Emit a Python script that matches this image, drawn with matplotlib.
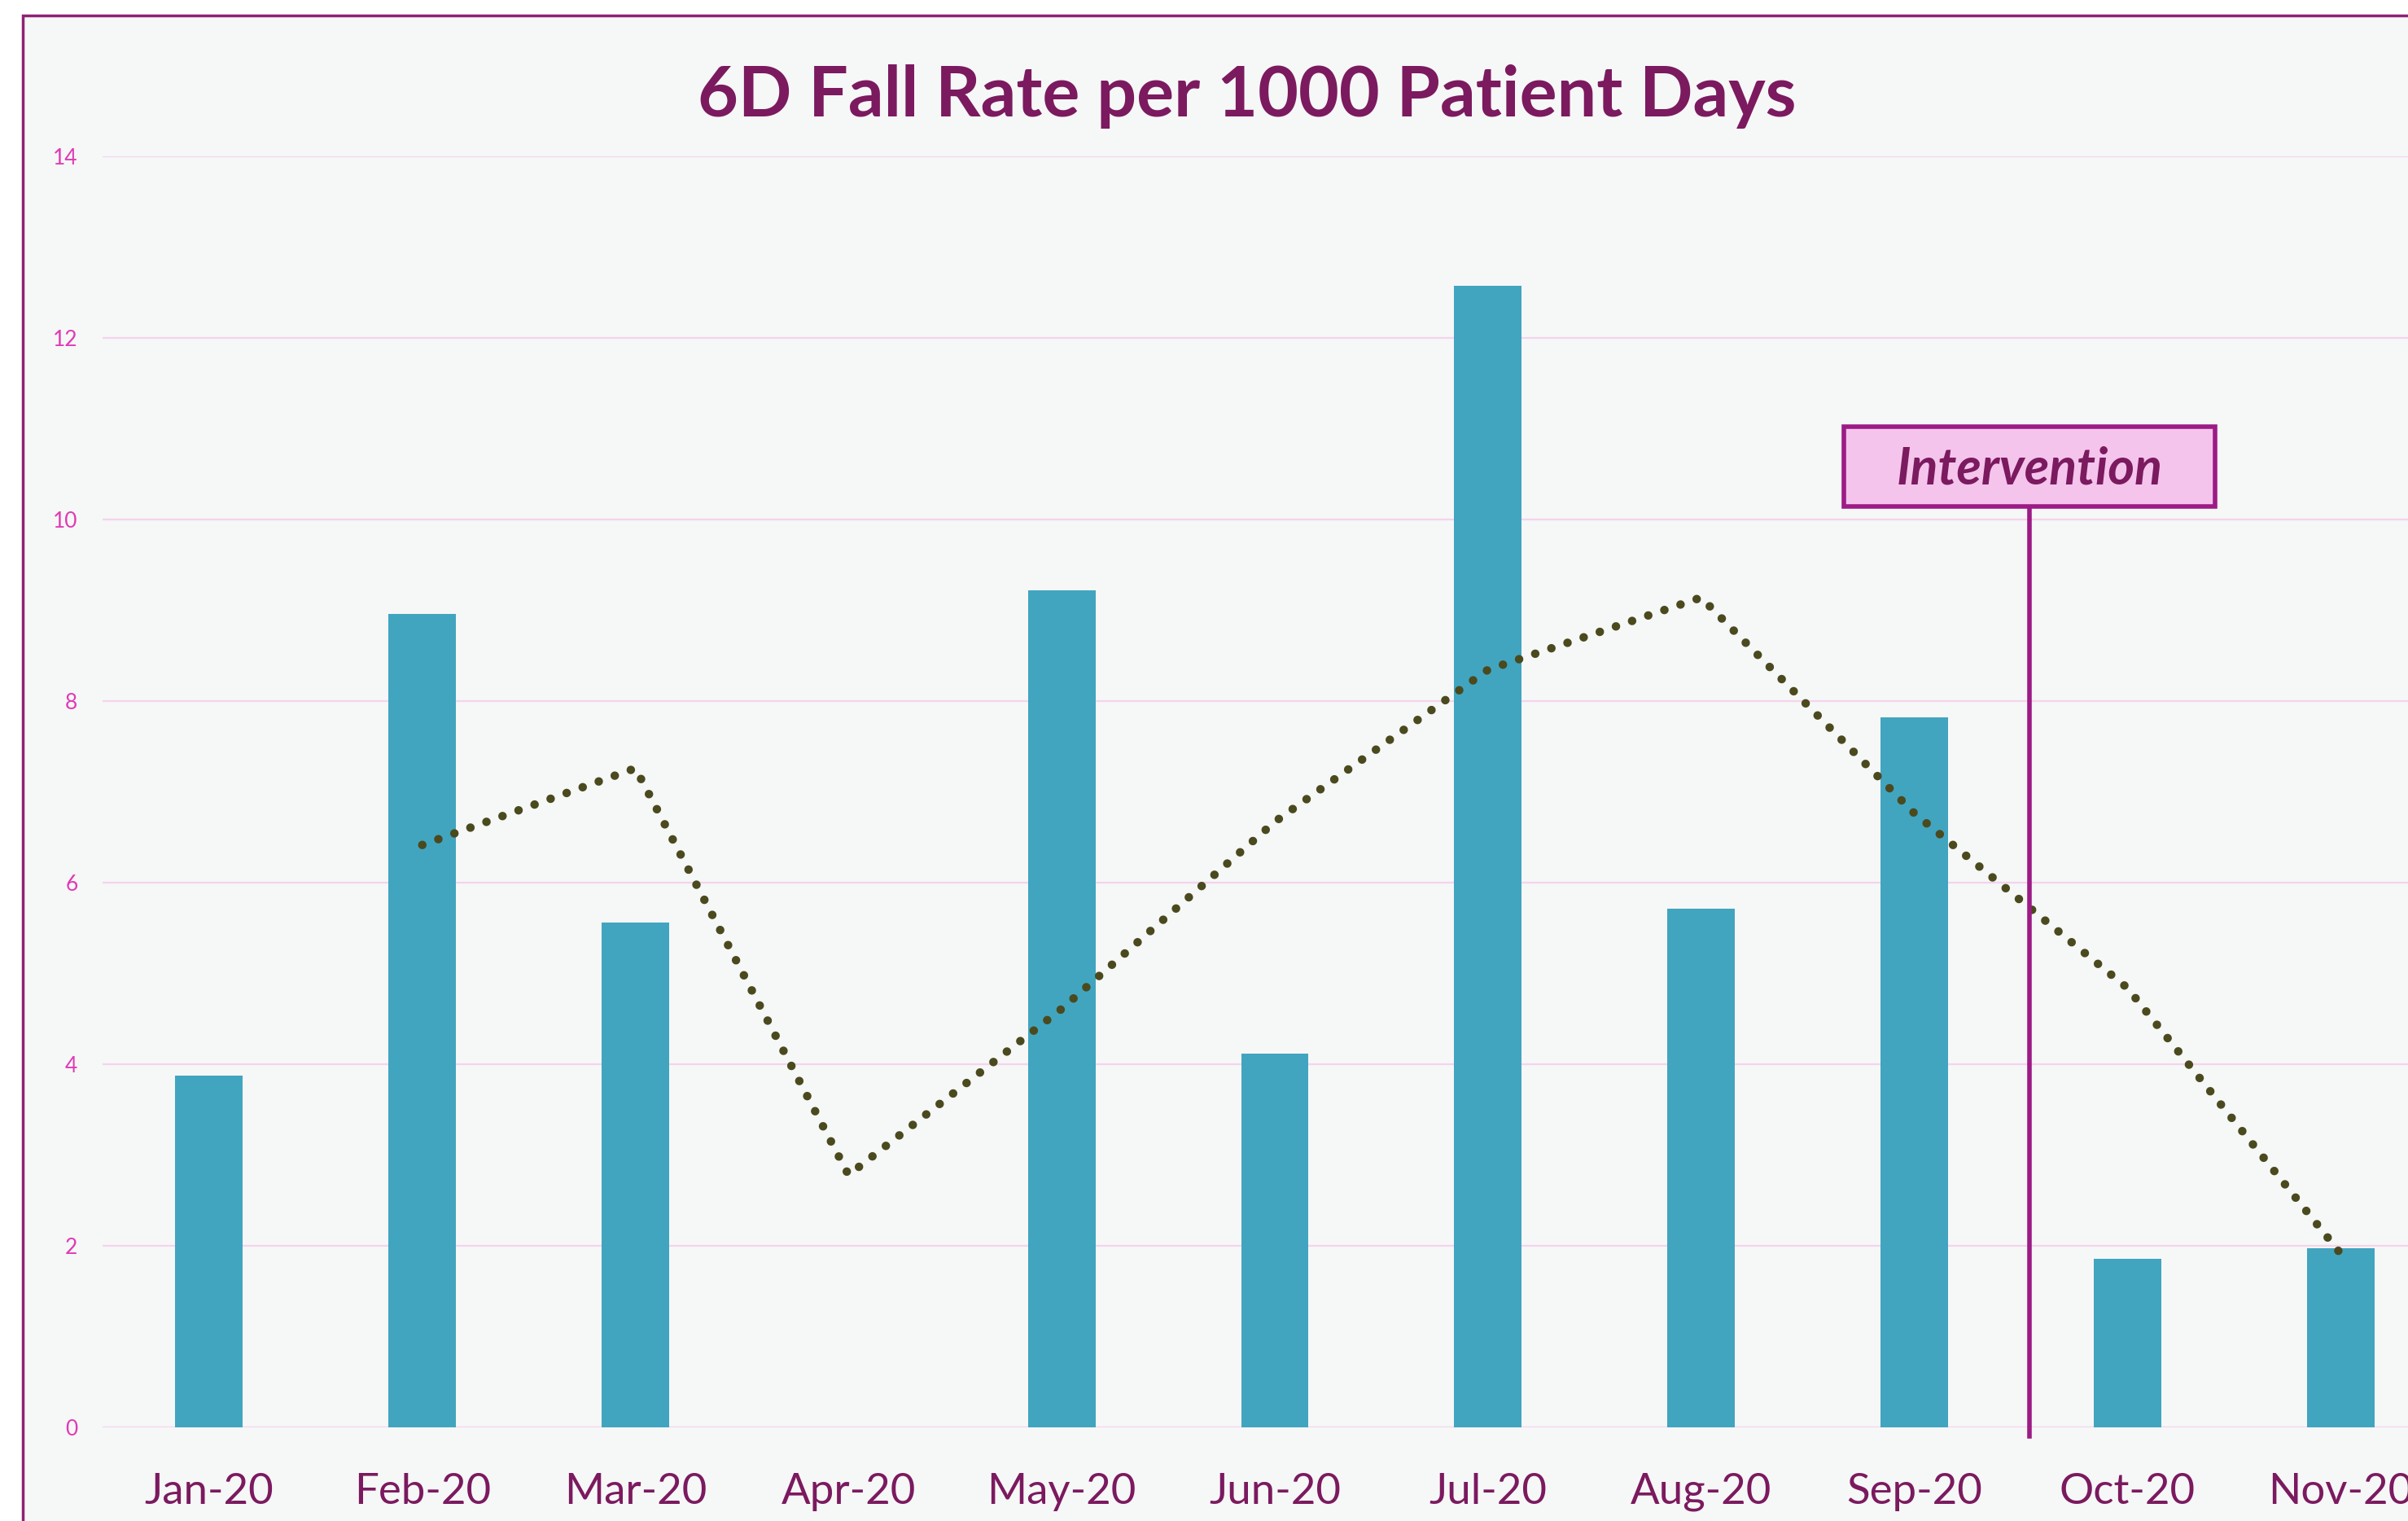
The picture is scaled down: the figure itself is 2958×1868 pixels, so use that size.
import matplotlib
matplotlib.use("Agg")
import matplotlib.pyplot as plt
from matplotlib.patches import Rectangle
import pandas as pd

# data
months = ["Jan-20", "Feb-20", "Mar-20", "Apr-20", "May-20", "Jun-20",
          "Jul-20", "Aug-20", "Sep-20", "Oct-20", "Nov-20"]
fall_rate = [3.87, 8.96, 5.56, 0.0, 9.22, 4.12, 12.57, 5.71, 7.82, 1.86, 1.97]
y_ticks = [0, 2, 4, 6, 8, 10, 12, 14]

# 2 period moving average trendline (as in the source chart)
trend = pd.Series(fall_rate).rolling(2).mean()

PURPLE = "#7B1A5F"
FRAME = "#8E2274"
BG = "#F6F7F7"
BAR = "#41A5C0"
GRID = "#F5D3EE"
YTICK = "#E03AB4"
DOTS = "#4A4A1E"

plt.rcParams['font.family'] = ['Lato', 'DejaVu Sans']

fig = plt.figure(figsize=(29.58, 18.68), dpi=100, facecolor="white")

# chart area background + border (right/bottom clipped like the original)
frame = Rectangle((28 / 2958, -0.1), 1.2, 1.1 - 19 / 1868,
                  transform=fig.transFigure, facecolor=BG,
                  edgecolor=FRAME, linewidth=2.5, zorder=-1)
fig.patches.append(frame)

ax = fig.add_axes([126 / 2958, 115 / 1868, 2880 / 2958, 1561 / 1868])
ax.set_facecolor("none")
ax.set_zorder(1)

x = list(range(len(months)))
ax.bar(x, fall_rate, width=0.317, color=BAR, zorder=2)
ax.plot(x, trend, color=DOTS, linewidth=7.5, linestyle=(0, (0.01, 2.0)),
        dash_capstyle="round", zorder=3)

ax.set_xlim(-0.5, len(months) - 0.5)
ax.set_ylim(0, 14)
ax.set_yticks(y_ticks)
ax.set_xticks(x)
ax.set_xticklabels(months)
for s in ax.spines.values():
    s.set_visible(False)
ax.grid(axis="y", color=GRID, linewidth=1.6, zorder=1)
ax.set_axisbelow(True)
ax.tick_params(axis="x", length=0, pad=40, labelsize=38, labelcolor=PURPLE)
ax.tick_params(axis="y", length=0, pad=22, labelsize=19, labelcolor=YTICK)

# intervention marker
line_x = 8.54
ax.plot([line_x, line_x], [-0.1, 10.14], color="#9C1B86", linewidth=4,
        clip_on=False, zorder=4)
ax.add_patch(Rectangle((7.67, 10.14), 9.41 - 7.67, 11.02 - 10.14,
                       facecolor="#F5C4EC", edgecolor="#9C1B86",
                       linewidth=4, zorder=5))
ax.text((7.67 + 9.41) / 2, 10.56, "Intervention", ha="center", va="center",
        fontsize=45, fontweight="bold", fontstyle="italic", color=PURPLE,
        zorder=6)

fig.text(0.518, 1 - 119 / 1868, "6D Fall Rate per 1000 Patient Days",
         ha="center", va="center", fontsize=62, fontweight="bold",
         color=PURPLE)

fig.savefig("out.png", dpi=100, facecolor="white")
